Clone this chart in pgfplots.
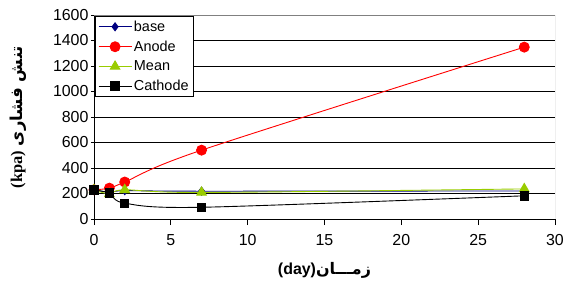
\documentclass[border=0pt]{standalone}
\usepackage{fontspec}
\usepackage{pgfplots}
\pgfplotsset{compat=1.18}
\setmainfont{Liberation Sans}
\newfontfamily\arabicfont[Script=Arabic]{DejaVu Sans}
\newfontfamily\seriffont{Liberation Serif}
\TeXXeTstate=1
\definecolor{navyc}{HTML}{000080}
\definecolor{greenc}{HTML}{99CC00}
\begin{document}
\begin{tikzpicture}
\begin{axis}[
  at={(0,0)}, anchor=south west,
  scale only axis, width=461bp, height=204bp,
  xmin=0, xmax=30, ymin=0, ymax=1600,
  xtick={0,5,...,30}, ytick={0,200,...,1600},
  axis x line*=bottom, axis y line*=left,
  axis line style={black, line width=0.8bp, -},
  ymajorgrids, grid style={black, line width=0.6bp},
  tick style={black, line width=0.8bp},
  major tick length=6bp,
  xtick align=outside, ytick align=center,
  /pgf/number format/assume math mode=true,
  /pgf/number format/1000 sep={},
  tick label style={font=\fontsize{16}{18}\selectfont},
  xticklabel style={yshift=-6bp},
  yticklabel style={xshift=1bp},
  every axis y label/.style={at={(axis description cs:-0.165,0.5)}, rotate=90, anchor=center},
  every axis x label/.style={at={(axis description cs:0.5,-0.25)}, anchor=center},
  ylabel={\fontsize{16.5}{18}\selectfont{\seriffont\bfseries (kpa)} {\arabicfont\bfseries\beginR تنش فشاری\endR}},
  xlabel={\fontsize{16}{18}\selectfont\bfseries (day){\arabicfont\beginR زمـــان\endR}},
  legend style={at={(axis description cs:0.003,0.995)}, anchor=north west,
    font=\fontsize{14.5}{16}\selectfont, draw=black, line width=0.6bp,
    inner sep=2.5bp, row sep=4bp, cells={anchor=west}},
  legend cell align=left,
  legend image code/.code={\draw[mark repeat=2,mark phase=2] plot coordinates {(0cm,0cm) (0.58cm,0cm) (1.16cm,0cm)};},
]
\addplot[navyc, line width=0.9bp, smooth, mark=diamond*, mark size=4bp, mark options={solid, fill=navyc}]
  coordinates {(0,228) (1,210) (2,222) (7,218) (28,220)};
\addlegendentry{base}
\addplot[red, line width=0.9bp, smooth, mark=*, mark size=5bp, mark options={fill=red}]
  coordinates {(0,229) (1,242) (2,290) (7,540) (28,1348)};
\addlegendentry{Anode}
\addplot[greenc, line width=0.9bp, smooth, mark=triangle*, mark size=5.5bp, mark options={fill=greenc}]
  coordinates {(0,228) (1,197) (2,229) (7,208) (28,236)};
\addlegendentry{Mean}
\addplot[black, line width=0.9bp, smooth, mark=square*, mark size=4.2bp, mark options={fill=black}]
  coordinates {(0,229) (1,203) (2,124) (7,92) (28,182)};
\addlegendentry{Cathode}
\draw[gray, line width=0.8bp] (rel axis cs:0,1) -- (rel axis cs:1,1) -- (rel axis cs:1,0);
\end{axis}
\pgfresetboundingbox
\path[use as bounding box] (-94bp,-66bp) rectangle (474bp,219bp);
\end{tikzpicture}
\end{document}
